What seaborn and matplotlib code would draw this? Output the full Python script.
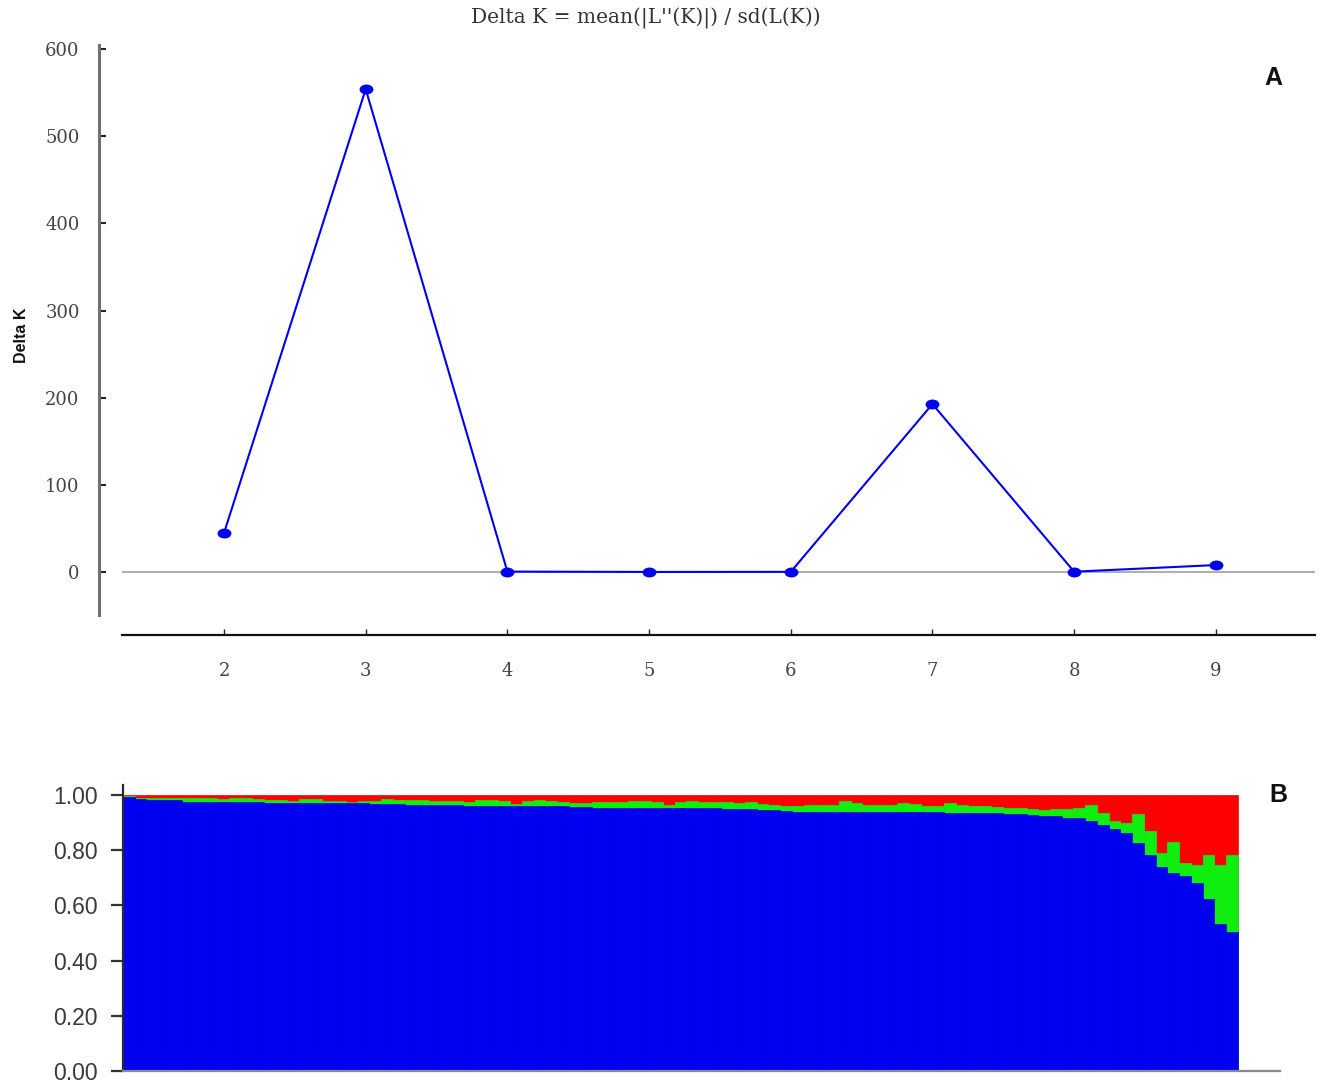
import numpy as np
import pandas as pd
import matplotlib
matplotlib.use("Agg")
import matplotlib.pyplot as plt
from matplotlib.path import Path
from matplotlib.transforms import Affine2D
import seaborn as sns

# ---- Panel A: Evanno Delta K by number of clusters ----
k_values = [2, 3, 4, 5, 6, 7, 8, 9]
delta_k = [44.7, 554.0, 0.5, 0.1, 0.2, 192.7, 0.4, 8.0]
delta_ticks = [0, 100, 200, 300, 400, 500, 600]

# ---- Panel B: membership coefficients (K = 3), individuals sorted ----
blue = [0.994, 0.986, 0.981, 0.981, 0.981, 0.976, 0.976, 0.976, 0.974, 0.974,
        0.974, 0.974, 0.969, 0.969, 0.969, 0.969, 0.969, 0.969, 0.969, 0.969,
        0.969, 0.967, 0.967, 0.967, 0.962, 0.962, 0.962,
        0.962, 0.962, 0.961, 0.961, 0.961, 0.960, 0.960, 0.960, 0.960, 0.959,
        0.959, 0.958, 0.957, 0.952, 0.952, 0.952, 0.952, 0.952, 0.952, 0.952,
        0.951, 0.951, 0.951, 0.951, 0.950, 0.950, 0.949,
        0.946, 0.944, 0.941, 0.940, 0.940, 0.940, 0.940, 0.940, 0.940, 0.938,
        0.937, 0.937, 0.937, 0.937, 0.937, 0.937, 0.936, 0.936, 0.936, 0.935,
        0.934, 0.931, 0.930, 0.926,
        0.925, 0.922, 0.918, 0.915, 0.904, 0.890, 0.875, 0.861, 0.826, 0.783,
        0.740, 0.719, 0.705, 0.680, 0.623, 0.534, 0.505]
green = [0.002, 0.004, 0.007, 0.007, 0.008, 0.012, 0.013, 0.012, 0.010, 0.014,
         0.014, 0.012, 0.013, 0.012, 0.010, 0.016, 0.015, 0.010, 0.008, 0.006,
         0.010, 0.012, 0.018, 0.014, 0.018, 0.018, 0.017,
         0.016, 0.016, 0.015, 0.019, 0.019, 0.018, 0.008, 0.018, 0.020, 0.019,
         0.017, 0.014, 0.015, 0.021, 0.022, 0.022, 0.026, 0.027, 0.023, 0.012,
         0.025, 0.026, 0.024, 0.023, 0.024, 0.022, 0.024,
         0.022, 0.021, 0.020, 0.021, 0.022, 0.022, 0.024, 0.038, 0.030, 0.026,
         0.027, 0.028, 0.033, 0.031, 0.024, 0.024, 0.036, 0.029, 0.025, 0.025,
         0.024, 0.021, 0.023, 0.024,
         0.022, 0.028, 0.032, 0.039, 0.060, 0.046, 0.029, 0.039, 0.106, 0.085,
         0.050, 0.110, 0.049, 0.067, 0.160, 0.213, 0.278]
red = [0.004, 0.010, 0.012, 0.012, 0.011, 0.012, 0.011, 0.012, 0.016, 0.012,
       0.012, 0.014, 0.018, 0.019, 0.021, 0.015, 0.016, 0.021, 0.023, 0.025,
       0.021, 0.021, 0.015, 0.019, 0.020, 0.020, 0.021,
       0.022, 0.022, 0.024, 0.020, 0.020, 0.022, 0.032, 0.022, 0.020, 0.022,
       0.024, 0.028, 0.028, 0.027, 0.026, 0.026, 0.022, 0.021, 0.025, 0.036,
       0.024, 0.023, 0.025, 0.026, 0.026, 0.028, 0.027,
       0.032, 0.035, 0.039, 0.039, 0.038, 0.038, 0.036, 0.022, 0.030, 0.036,
       0.036, 0.035, 0.030, 0.032, 0.039, 0.039, 0.028, 0.035, 0.039, 0.040,
       0.042, 0.048, 0.047, 0.050,
       0.053, 0.050, 0.050, 0.046, 0.036, 0.064, 0.096, 0.100, 0.068, 0.132,
       0.210, 0.171, 0.246, 0.253, 0.217, 0.253, 0.217]
q_ticks = [0.0, 0.2, 0.4, 0.6, 0.8, 1.0]

BLUE = "#0000f0"
GREEN = "#10ee10"
RED = "#ff0000"
SERIF = "DejaVu Serif"
SANS = "Liberation Sans"

sns.set_theme(style="ticks")
plt.rcParams["font.family"] = ["DejaVu Sans"]

W, H = 1321, 1086
fig = plt.figure(figsize=(W / 100, H / 100), dpi=100)
fig.patch.set_facecolor("white")


def frac_box(left, top, right, bottom):
    return [left / W, 1 - bottom / H, (right - left) / W, (bottom - top) / H]


# ---------------- Panel A ----------------
ax1 = fig.add_axes(frac_box(122, 45, 1315, 615))
ax1.set_facecolor("white")
ax1.axhline(0, color="#a8a8a8", lw=1.3, zorder=1)

ellipse = Path.unit_circle().transformed(Affine2D().scale(1.4, 1.0))
dk = pd.DataFrame({"K": k_values, "DeltaK": delta_k})
sns.lineplot(data=dk, x="K", y="DeltaK", color=BLUE, lw=1.5,
             marker=ellipse, markersize=10, markeredgewidth=0,
             markerfacecolor=BLUE, ax=ax1, zorder=3)

ax1.set_xlim(1.28, 9.70)
ax1.set_ylim(-49.3, 604.6)
ax1.set_xticks(k_values)
ax1.set_yticks(delta_ticks)
ax1.set_xlabel("")
ax1.set_ylabel("Delta K", fontfamily=SANS, fontsize=11.5, fontweight="bold",
               color="#111")
ax1.yaxis.set_label_coords(-0.078, 0.49)

sns.despine(ax=ax1, offset={"left": 16.5, "bottom": 14.5})
ax1.spines["left"].set_color("#707070")
ax1.spines["left"].set_linewidth(2.2)
ax1.spines["bottom"].set_color("#111111")
ax1.spines["bottom"].set_linewidth(1.6)

ax1.tick_params(axis="y", direction="in", length=5, width=1.5, color="#222",
                pad=14, labelsize=13, labelcolor="#444")
ax1.tick_params(axis="x", direction="in", length=4, width=1.0, color="#222",
                pad=19, labelsize=13, labelcolor="#444")
for lbl in ax1.get_xticklabels() + ax1.get_yticklabels():
    lbl.set_fontfamily(SERIF)

fig.text(646 / W, 1 - 18 / H, "Delta K = mean(|L''(K)|) / sd(L(K))",
         ha="center", va="center", fontfamily=SERIF, fontsize=14.5, color="#333")
fig.text(1273 / W, 1 - 78 / H, "A", ha="center", va="center",
         fontfamily=SANS, fontweight="bold", fontsize=18, color="#111")

# ---------------- Panel B ----------------
ax2 = fig.add_axes(frac_box(123, 785, 1280, 1071))
ax2.set_facecolor("white")

q = pd.DataFrame({"ind": np.arange(len(blue)), "blue": blue,
                  "green": green, "red": red})
q["upto_green"] = q["blue"] + q["green"]
q["upto_red"] = q["upto_green"] + q["red"]

for col, c in [("upto_red", RED), ("upto_green", GREEN), ("blue", BLUE)]:
    sns.barplot(data=q, x="ind", y=col, color=c, saturation=1, width=1.0,
                linewidth=0.5, edgecolor=c, native_scale=True, ax=ax2)

ax2.set_xlim(-0.5, 98.1)
ax2.set_ylim(0, 1.036)
ax2.set_xticks([])
ax2.set_yticks(q_ticks)
ax2.set_yticklabels([f"{t:.2f}" for t in q_ticks])
ax2.set_xlabel("")
ax2.set_ylabel("")

for side in ("top", "right"):
    ax2.spines[side].set_visible(False)
ax2.spines["left"].set_color("#2a2a2a")
ax2.spines["left"].set_linewidth(1.6)
ax2.spines["bottom"].set_color("#8a8a8a")
ax2.spines["bottom"].set_linewidth(1.6)
ax2.tick_params(axis="y", direction="out", length=9, width=1.6, color="#333",
                pad=9, labelsize=16.5, labelcolor="#3a3a3a")
for lbl in ax2.get_yticklabels():
    lbl.set_fontfamily(SANS)

fig.text(1278 / W, 1 - 795 / H, "B", ha="center", va="center",
         fontfamily=SANS, fontweight="bold", fontsize=18, color="#111")

fig.savefig("out.png", dpi=100, facecolor="white")
